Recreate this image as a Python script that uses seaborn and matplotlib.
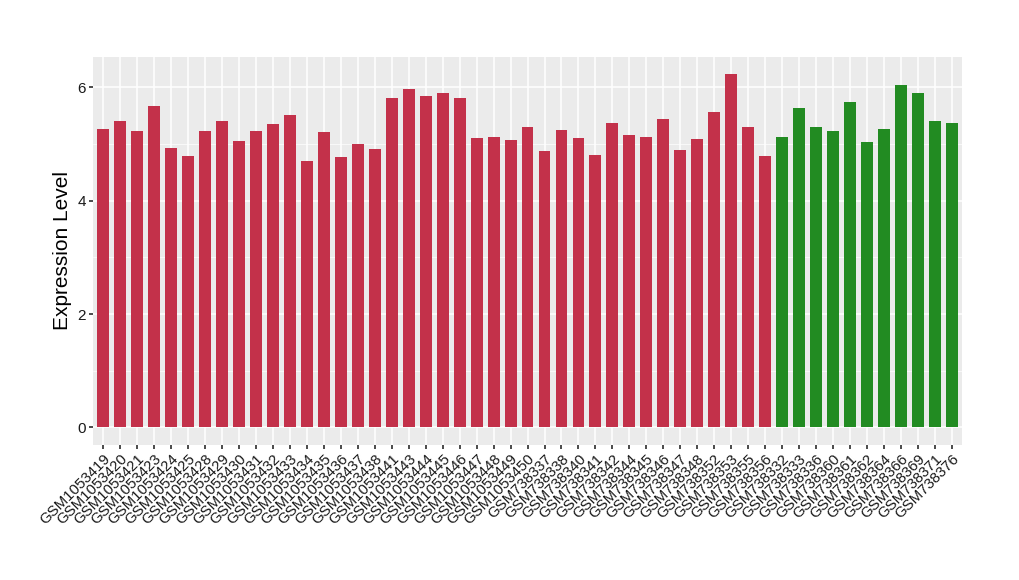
import numpy as np
import pandas as pd
import matplotlib
matplotlib.use("Agg")
import matplotlib.pyplot as plt
import seaborn as sns
from matplotlib.ticker import MultipleLocator

# ── Data ──────────────────────────────────────────────────────────────────────
samples_a = ["GSM1053419", "GSM1053420", "GSM1053421", "GSM1053423", "GSM1053424",
             "GSM1053425", "GSM1053428", "GSM1053429", "GSM1053430", "GSM1053431",
             "GSM1053432", "GSM1053433", "GSM1053434", "GSM1053435", "GSM1053436",
             "GSM1053437", "GSM1053438", "GSM1053441", "GSM1053443", "GSM1053444",
             "GSM1053445", "GSM1053446", "GSM1053447", "GSM1053448", "GSM1053449",
             "GSM1053450", "GSM738337", "GSM738338", "GSM738340", "GSM738341",
             "GSM738342", "GSM738344", "GSM738345", "GSM738346", "GSM738347",
             "GSM738348", "GSM738352", "GSM738353", "GSM738355", "GSM738356"]
values_a = [5.26, 5.40, 5.23, 5.68, 4.93, 4.79, 5.23, 5.40, 5.05, 5.23,
            5.35, 5.51, 4.70, 5.21, 4.77, 5.00, 4.91, 5.82, 5.97, 5.84,
            5.91, 5.82, 5.10, 5.12, 5.07, 5.31, 4.87, 5.24, 5.10, 4.80,
            5.37, 5.16, 5.12, 5.44, 4.89, 5.09, 5.56, 6.23, 5.31, 4.79]

samples_b = ["GSM738332", "GSM738333", "GSM738336", "GSM738360", "GSM738361",
             "GSM738362", "GSM738364", "GSM738366", "GSM738369", "GSM738371",
             "GSM738376"]
values_b = [5.12, 5.63, 5.31, 5.23, 5.75, 5.03, 5.26, 6.04, 5.91, 5.40, 5.37]

COLOR_A = "#C3314A"
COLOR_B = "#228B22"

df = pd.DataFrame({
    "sample": samples_a + samples_b,
    "value": values_a + values_b,
    "group": ["A"] * len(samples_a) + ["B"] * len(samples_b),
})

# ── Style ─────────────────────────────────────────────────────────────────────
sns.set_theme(style="darkgrid", rc={
    "axes.facecolor": "#EBEBEB",
    "grid.color": "white",
})
plt.rcParams["font.family"] = ["Liberation Sans", "DejaVu Sans"]

fig = plt.figure(figsize=(10.2, 5.8), dpi=100)
ax = fig.add_axes([0.0912, 0.233, 0.852, 0.669])

sns.barplot(data=df, x="sample", y="value", hue="group",
            palette={"A": COLOR_A, "B": COLOR_B}, dodge=False,
            width=0.7, legend=False, ax=ax, saturation=1, linewidth=0)

ax.set_xlim(-0.6, len(df) - 0.4)
ax.set_ylim(-0.31, 6.54)
ax.yaxis.set_major_locator(MultipleLocator(2))
ax.yaxis.set_minor_locator(MultipleLocator(1))
ax.grid(which="major", color="white", linewidth=1.1)
ax.grid(which="minor", axis="y", color="white", linewidth=0.5)
ax.set_axisbelow(True)
for s in ax.spines.values():
    s.set_visible(False)

ax.tick_params(axis="both", which="major", length=3, color="#333333",
               bottom=True, left=True, labelcolor="#1a1a1a", pad=2)
ax.tick_params(axis="x", which="major", labelsize=10.8)
ax.tick_params(axis="y", which="major", labelsize=11)
ax.tick_params(axis="both", which="minor", length=0)
plt.setp(ax.get_xticklabels(), rotation=45, ha="right", rotation_mode="anchor")
ax.set_xlabel("")
ax.set_ylabel("Expression Level", fontsize=15, color="black")

fig.savefig("out.png", dpi=100)
